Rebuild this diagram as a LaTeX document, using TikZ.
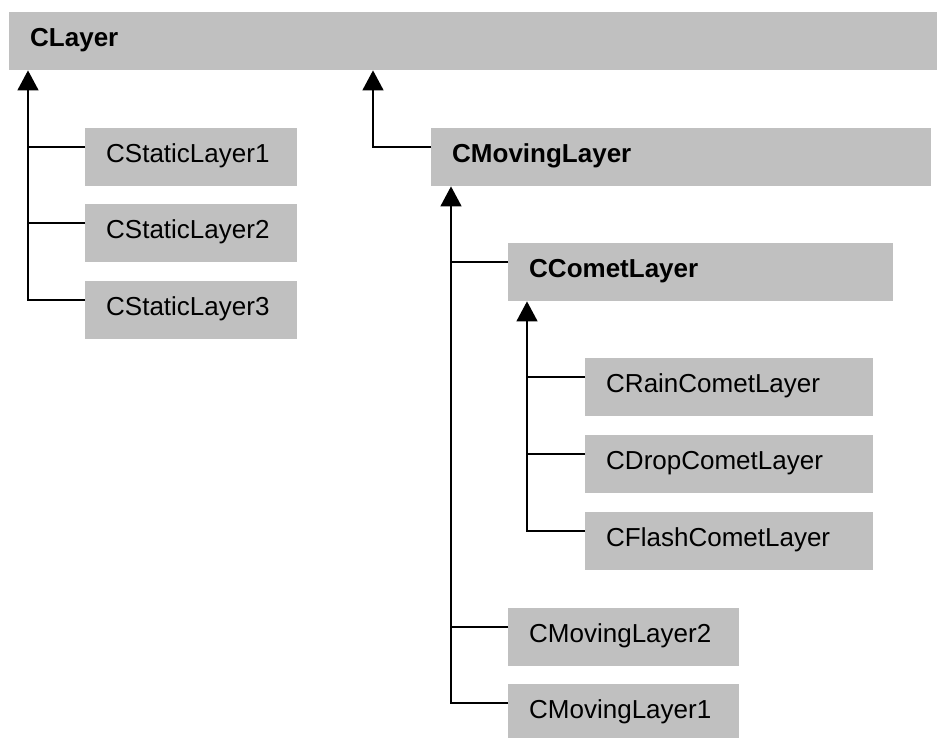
\documentclass[tikz,border=0pt]{standalone}
\usepackage{fontspec}
\setmainfont{Liberation Sans}
\usetikzlibrary{arrows.meta}
\definecolor{boxgray}{HTML}{C0C0C0}
\tikzset{
  cls/.style={fill=boxgray, draw=none, anchor=north west, rectangle,
    minimum height=58pt, inner xsep=21pt, inner ysep=0pt,
    text height=17pt, text depth=7pt, align=left,
    font=\fontsize{26}{30}\selectfont},
  abstract/.style={cls, font=\fontsize{26}{30}\selectfont\bfseries},
  wire/.style={line width=1.5pt, black},
  inherit/.style={wire, -{Triangle[length=20pt,width=21pt]}}
}
\begin{document}
\begin{tikzpicture}[x=1pt,y=-1pt]
  \useasboundingbox (0,0) rectangle (937,738);

  % class boxes (text width = box width - 42pt)
  \node[abstract, text width=888pt] (clayer) at (9,12) {CLayer};
  \node[cls, text width=170pt] (s1) at (85,128) {CStaticLayer1};
  \node[cls, text width=170pt] (s2) at (85,204) {CStaticLayer2};
  \node[cls, text width=170pt] (s3) at (85,281) {CStaticLayer3};
  \node[abstract, text width=458pt] (moving) at (431,128) {CMovingLayer};
  \node[abstract, text width=343pt] (comet) at (508,243) {CCometLayer};
  \node[cls, text width=246pt] (rain) at (585,358) {CRainCometLayer};
  \node[cls, text width=246pt] (drop) at (585,435) {CDropCometLayer};
  \node[cls, text width=246pt] (flash) at (585,512) {CFlashCometLayer};
  \node[cls, text width=189pt] (ml2) at (508,608) {CMovingLayer2};
  \node[cls, text width=189pt] (ml1) at (508,684) {CMovingLayer1};

  % arrow tips on the parents' lower edges
  \coordinate (t1) at ([xshift=19pt]clayer.south west);
  \coordinate (t2) at ([xshift=364pt]clayer.south west);
  \coordinate (t3) at ([xshift=20pt]moving.south west);
  \coordinate (t4) at ([xshift=19pt]comet.south west);

  % branch points on the children's left edges
  \foreach \n in {s1,s2,s3,moving,comet,rain,drop,flash,ml2,ml1}
    \coordinate (b-\n) at ([yshift=-19pt]\n.north west);

  % CLayer subclasses
  \draw[inherit] (b-s3) -| (t1);
  \draw[wire] (b-s1) -- (b-s1 -| t1);
  \draw[wire] (b-s2) -- (b-s2 -| t1);
  \draw[inherit] (b-moving) -| (t2);

  % CMovingLayer subclasses
  \draw[inherit] (b-ml1) -| (t3);
  \draw[wire] (b-comet) -- (b-comet -| t3);
  \draw[wire] (b-ml2) -- (b-ml2 -| t3);

  % CCometLayer subclasses
  \draw[inherit] (b-flash) -| (t4);
  \draw[wire] (b-rain) -- (b-rain -| t4);
  \draw[wire] (b-drop) -- (b-drop -| t4);
\end{tikzpicture}
\end{document}
